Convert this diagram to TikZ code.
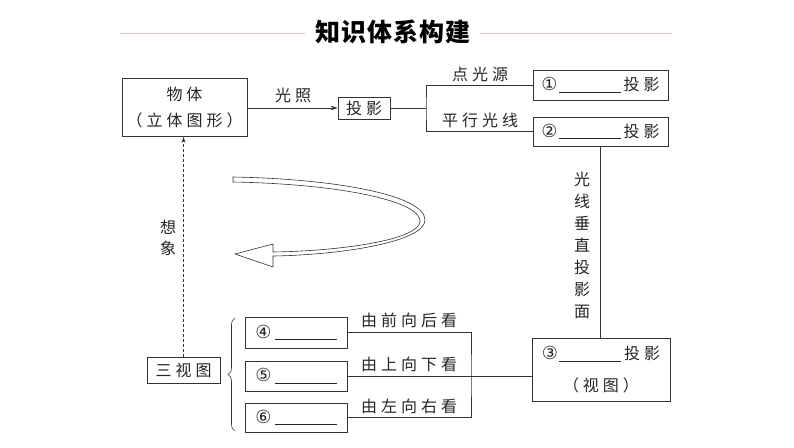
\documentclass[tikz,border=0pt]{standalone}
\usepackage{fontspec}
\newfontfamily\cjk{Noto Sans CJK SC}
\newfontfamily\dv{DejaVu Sans}
\usetikzlibrary{arrows.meta,decorations.pathreplacing}
\newcommand\g{\hspace{4pt}}
\newcommand\blank{\rule[-2pt]{62pt}{0.9pt}}
\newcommand\cn[1]{{\dv\fontsize{18}{20}\selectfont #1}}
\begin{document}
\begin{tikzpicture}[x=1pt,y=-1pt,
  font=\cjk\fontsize{16}{20}\selectfont,
  every node/.style={text=black!85},
  box/.style={draw=black!80, line width=0.7pt, inner sep=0pt},
  lbl/.style={inner sep=0pt},
  ln/.style={draw=black!80, line width=0.7pt},
  pinkline/.style={draw={rgb,255:red,230;green,188;blue,200}, line width=1pt}]
\useasboundingbox[fill=white] (0,0) rectangle (794,447);

% title
\node[lbl, font=\cjk\bfseries\fontsize{25}{25}\selectfont, text=black] (title) at (392.5,32)
  {知\hspace{1pt}识\hspace{1pt}体\hspace{1pt}系\hspace{1pt}构\hspace{1pt}建};
\coordinate (tl) at (120,33);
\coordinate (tr) at (672,33);
\draw[pinkline] (tl) -- ([xshift=-10pt]title.west |- tl);
\draw[pinkline] ([xshift=10pt]title.east |- tr) -- (tr);

% boxes
\node[box, minimum width=125pt, minimum height=58pt, align=center,
      font=\cjk\fontsize{16}{26}\selectfont] (wt) at (184.5,107.5)
  {物\g{}体\\（\g{}立\g{}体\g{}图\g{}形\g{}）};
\node[box, minimum width=52pt, minimum height=22pt] (ty) at (364,108) {投\g{}影};
\node[box, minimum width=135pt, minimum height=30pt] (b1) at (600.5,85)
  {\cn{①}\hspace{1pt}\blank\hspace{3pt}投\g{}影};
\node[box, minimum width=135pt, minimum height=29pt] (b2) at (600.5,131.5)
  {\cn{②}\hspace{1pt}\blank\hspace{3pt}投\g{}影};
\node[box, minimum width=138pt, minimum height=63pt, align=center,
      font=\cjk\fontsize{16}{32}\selectfont] (b3) at (601,369.5)
  {\cn{③}\hspace{1pt}\blank\hspace{3pt}投\g{}影\\（\g{}视\g{}图\g{}）};
\node[box, minimum width=102pt, minimum height=31pt] (b4) at (296,332.5)
  {\cn{④}\hspace{3pt}\blank};
\node[box, minimum width=102pt, minimum height=30pt] (b5) at (296,376)
  {\cn{⑤}\hspace{3pt}\blank};
\node[box, minimum width=102pt, minimum height=29pt] (b6) at (296,417.5)
  {\cn{⑥}\hspace{3pt}\blank};
\node[box, minimum width=73pt, minimum height=26pt] (sv) at (183.5,370)
  {三\g{}视\g{}图};

% connectors
\draw[ln, -{Stealth[length=7pt,width=4.5pt]}] (ty.west -| wt.east) -- (ty.west);
\node[lbl] (gz) at (293,95) {光\g{}照};
\coordinate (j) at (426,108);
\draw[ln] (ty.east) -- (j);
\draw[ln] (b1.west) -| (j) |- (b2.west);
\node[lbl] (dgy) at (480,74) {点\g{}光\g{}源};
\node[lbl] (pxgx) at (480,120) {平\g{}行\g{}光\g{}线};
\draw[ln] (b2.south) -- (b2.south |- b3.north);
\node[lbl, align=center, font=\cjk\fontsize{16}{22}\selectfont] (cz) at (582,245)
  {光\\线\\垂\\直\\投\\影\\面};

\coordinate (k) at (471,376);
\draw[ln] (b4.east) -| (k) |- (b6.east);
\draw[ln] (b5.east) -- (b5.east -| b3.west);
\node[lbl] (l4) at (409,320) {由\g{}前\g{}向\g{}后\g{}看};
\node[lbl] (l5) at (409,364) {由\g{}上\g{}向\g{}下\g{}看};
\node[lbl] (l6) at (409,406) {由\g{}左\g{}向\g{}右\g{}看};

\draw[ln, line width=0.8pt, dash pattern=on 3pt off 2pt, -{Stealth[length=6pt,width=4pt]}]
  (sv.north) -- (sv.north |- wt.south);
\node[lbl, align=center, font=\cjk\fontsize{16}{21}\selectfont] (xx) at (168,238) {想\\象};

% brace
\coordinate (bb) at (235,431);
\coordinate (bt) at (235,318);
\draw[ln, line width=0.6pt, decorate, decoration={brace, amplitude=7pt}] (bb) -- (bt);

% curved hollow arrow
\draw[draw=black!80, line width=0.6pt, fill=white, line join=miter]
  (233,177) .. controls (340,179) and (425,196) .. (425,220)
  .. controls (425,242) and (340,255) .. (273,256)
  -- (273,267) -- (235,254) -- (273,244) -- (273,252)
  .. controls (340,251) and (420,240) .. (420,221)
  .. controls (420,201) and (340,184) .. (233,182) -- cycle;
\end{tikzpicture}
\end{document}
